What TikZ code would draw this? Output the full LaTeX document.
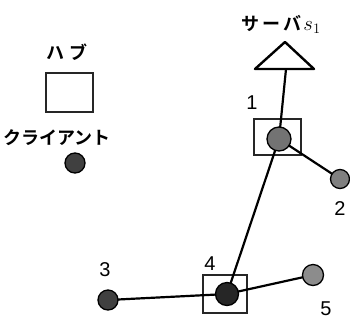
\documentclass[tikz,border=0pt]{standalone}
\usepackage{fontspec}
\setmainfont{Liberation Sans}
\newfontfamily\jp{Noto Sans CJK JP}[BoldFont={Noto Sans CJK JP Bold}]
\begin{document}
\begin{tikzpicture}[x=1pt,y=-1pt,
 hubbox/.style={draw=black!85, line width=2.4pt, inner sep=0pt},
 client/.style={circle, draw=black, line width=1.3pt, inner sep=0pt},
 link/.style={line width=2.2pt},
 jptext/.style={font=\jp\bfseries\fontsize{18}{18}\selectfont, inner sep=0pt},
 num/.style={font=\fontsize{20}{20}\selectfont, inner sep=0pt}]
\useasboundingbox (0,0) rectangle (350,322);
% legend
\node[jptext] (lhub) at (67,52) {ハ\hspace{5pt}ブ};
\node[hubbox, minimum width=47pt, minimum height=39pt] (lbox) at (69.5,92.5) {};
\node[jptext] (lcli) at (57,138) {クライアント};
\node[client, fill=black!75, minimum size=20pt] (lc) at (75,163) {};
% hubs
\node[hubbox, minimum width=47pt, minimum height=36pt] (h1) at (277.5,137) {};
\node[hubbox, minimum width=44pt, minimum height=38pt] (h4) at (225,294) {};
% server
\node[jptext] (srvt) at (281,24) {サ\hspace{3pt}ー\hspace{3pt}バ\hspace{2pt}{\fontsize{22}{22}\selectfont$s_1$}};
\coordinate (srv) at (286,69);
% links
\coordinate (c1p) at (279,139);
\coordinate (c4p) at (227,294);
\draw[link] (srv) -- (c1p);
\draw[link] (c1p) -- (c4p);
\draw[link] (c1p) -- (340,179) coordinate (n2p);
\draw[link] (108,300) coordinate (n3p) -- (c4p);
\draw[link] (c4p) -- (313,275) coordinate (n5p);
% clients
\node[client, fill=black!55, minimum size=24pt] (c1) at (c1p) {};
\node[client, fill=black!85, minimum size=23pt] (c4) at (c4p) {};
\node[client, fill=black!50, minimum size=19pt] (n2) at (n2p) {};
\node[client, fill=black!75, minimum size=20pt] (n3) at (n3p) {};
\node[client, fill=black!45, minimum size=21pt] (n5) at (n5p) {};
% server triangle
\draw[line width=2.4pt, fill=white, line join=round] (255,69) -- (285,42) -- (314,69) -- cycle;
% labels
\node[num] (l1) at (252,103) {1};
\node[num] (l2) at (340,209) {2};
\node[num] (l3) at (105,270) {3};
\node[num] (l4) at (210,264) {4};
\node[num] (l5) at (326,309) {5};
\end{tikzpicture}
\end{document}
